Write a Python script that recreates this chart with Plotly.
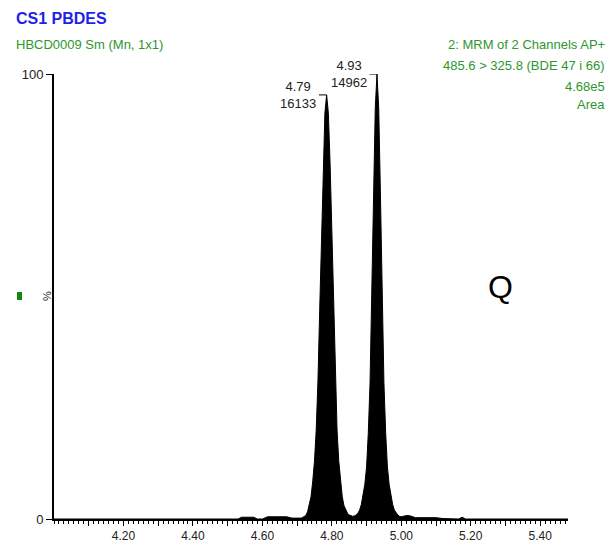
import plotly.graph_objects as go

# ---- data ----
rt = [4.00, 4.53, 4.54, 4.575, 4.585, 4.60, 4.615, 4.67, 4.685, 4.70, 4.71,
      4.715, 4.72, 4.725, 4.73, 4.735, 4.74, 4.745, 4.75, 4.755, 4.76,
      4.765, 4.77, 4.775, 4.78, 4.785, 4.79, 4.795, 4.80, 4.805, 4.81,
      4.815, 4.82, 4.825, 4.83, 4.835, 4.84, 4.845, 4.85, 4.855, 4.86,
      4.865, 4.87, 4.875, 4.88, 4.885, 4.89, 4.895, 4.90, 4.905, 4.91,
      4.915, 4.92, 4.925, 4.93, 4.935, 4.94, 4.945, 4.95, 4.955, 4.96,
      4.965, 4.97, 4.975, 4.98, 4.985, 4.99, 4.995, 5.00,
      5.01, 5.02, 5.03, 5.04, 5.06, 5.10, 5.12, 5.14, 5.165, 5.175, 5.185, 5.48]
intensity = [0, 0, 0.4, 0.4, 0, 0, 0.5, 0.5, 0.2, 0.1, 0.2,
             0.3, 0.5, 0.8, 1.6, 3.0, 5.0, 8.5, 13, 20, 31,
             46.9, 63.9, 79.8, 91.2, 95.3, 91.2, 79.8, 63.9, 46.9, 31,
             20, 13, 8.5, 5.0, 3.0, 1.9, 1.3, 0.9, 0.7, 0.6,
             0.7, 0.9, 1.3, 2.0, 3.3, 5.3, 7.8, 11.7, 19.4, 30.6,
             48.7, 72.6, 92.3, 100, 92.3, 72.6, 48.7, 30.6, 19.4, 11.7,
             7.8, 5.3, 3.3, 2.0, 1.3, 0.9, 0.6, 0.5,
             0.7, 0.8, 0.6, 0.3, 0.3, 0.3, 0.1, 0, 0, 0.4, 0, 0]

peak_rt = [4.785, 4.93]
peak_height = [95.3, 100]
peak_rt_label = ["4.79", "4.93"]
peak_area = ["16133", "14962"]

x_major = [4.1, 4.2, 4.3, 4.4, 4.5, 4.6, 4.7, 4.8, 4.9, 5.0, 5.1, 5.2, 5.3, 5.4]
x_major_text = ["", "4.20", "", "4.40", "", "4.60", "", "4.80", "", "5.00", "", "5.20", "", "5.40"]
y_ticks = [0, 100]
y_tick_text = ["0", "100"]

header_left = ["CS1 PBDES", "HBCD0009 Sm (Mn, 1x1)"]
header_right = ["2: MRM of 2 Channels AP+", "485.6 > 325.8 (BDE 47 i 66)", "4.68e5", "Area"]

FONT = "Liberation Sans Narrow, Arial Narrow, Liberation Sans, Arial, sans-serif"
GREEN = "#2e962e"
BLUE = "#1f1fee"

# plot-area geometry in pixels (for placing header text)
L, R, T, B = 54, 568, 74, 519
def px(x):
    return (x - L) / (R - L)
def py(y):
    return (B - y) / (B - T)

fig = go.Figure()
fig.add_trace(go.Scatter(
    x=rt, y=intensity, mode="lines", fill="tozeroy",
    fillcolor="black", line=dict(color="black", width=1),
    hoverinfo="skip", showlegend=False))

annotations = []
shapes = []
for xr, h, lab, area in zip(peak_rt, peak_height, peak_rt_label, peak_area):
    shapes.append(dict(type="line", xref="x", yref="y", x0=xr - 0.022, x1=xr,
                       y0=h, y1=h, line=dict(color="black", width=1)))
    annotations.append(dict(x=xr - 0.024, y=h, xref="x", yref="y",
                            text=f"{lab}<br>{area}", showarrow=False,
                            xanchor="right", yanchor="middle", align="center",
                            font=dict(family=FONT, size=13, color="#222")))

annotations.append(dict(x=px(14), y=py(19), xref="paper", yref="paper",
                        text=f"<b>{header_left[0]}</b>", showarrow=False,
                        xanchor="left", yanchor="middle",
                        font=dict(family=FONT, size=16, color=BLUE)))
annotations.append(dict(x=px(14), y=py(44), xref="paper", yref="paper",
                        text=header_left[1], showarrow=False,
                        xanchor="left", yanchor="middle",
                        font=dict(family=FONT, size=13, color=GREEN)))
for txt, yy in zip(header_right, [45, 66, 86, 104]):
    annotations.append(dict(x=px(607), y=py(yy), xref="paper", yref="paper",
                            text=txt, showarrow=False,
                            xanchor="right", yanchor="middle",
                            font=dict(family=FONT, size=13, color=GREEN)))

annotations.append(dict(x=px(500), y=py(287), xref="paper", yref="paper",
                        text="Q", showarrow=False, xanchor="center", yanchor="middle",
                        font=dict(family="Liberation Sans, Arial, sans-serif", size=32, color="black")))
annotations.append(dict(x=px(47), y=py(296), xref="paper", yref="paper",
                        text="%", showarrow=False, textangle=-90,
                        xanchor="center", yanchor="middle",
                        font=dict(family=FONT, size=11, color="#222")))
shapes.append(dict(type="rect", xref="paper", yref="paper",
                   x0=px(17), x1=px(22), y0=py(300), y1=py(292),
                   fillcolor="#118811", line=dict(width=0)))

fig.update_layout(
    width=613, height=543,
    margin=dict(l=L, r=613 - R, t=T, b=543 - B),
    paper_bgcolor="white", plot_bgcolor="white",
    annotations=annotations, shapes=shapes,
    xaxis=dict(range=[4.0, 5.48], tickmode="array", tickvals=x_major, ticktext=x_major_text,
               automargin=False,
               ticks="outside", ticklen=5, tickwidth=1, tickcolor="black",
               minor=dict(tick0=4.0, dtick=0.1 / 7, ticks="outside", ticklen=3,
                          tickcolor="black", tickwidth=1, showgrid=False),
               showline=True, linecolor="black", linewidth=1.5,
               showgrid=False, zeroline=False,
               tickfont=dict(family=FONT, size=12, color="#222")),
    yaxis=dict(range=[0, 100], tickmode="array", tickvals=y_ticks, ticktext=y_tick_text,
               automargin=False,
               ticks="outside", ticklen=6, tickcolor="black",
               showline=True, linecolor="black", linewidth=2,
               showgrid=False, zeroline=False,
               tickfont=dict(family=FONT, size=13, color="#222")),
)

fig.write_html("out.html", config={"displayModeBar": False},
               post_script="document.body.style.margin='0';document.body.style.overflow='hidden';")
